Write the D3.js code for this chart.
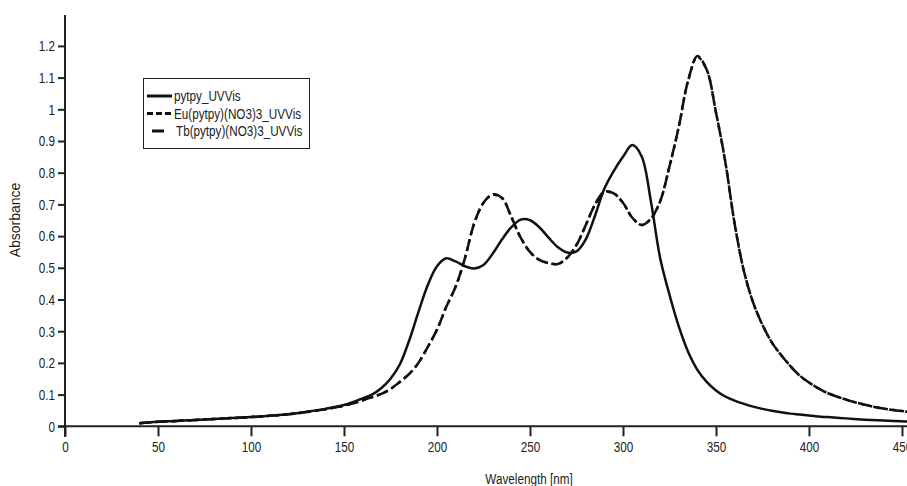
<!DOCTYPE html>
<html>
<head>
<meta charset="utf-8">
<script src="https://cdn.jsdelivr.net/npm/d3@7"></script>
<style>
  body { margin: 0; background: #fff; }
  svg { display: block; }
  .tick text, .label, .legend text { font-family: "Liberation Sans", Arial, sans-serif; font-size: 15px; fill: #222; }
  .ylabel { font-family: "Liberation Sans", Arial, sans-serif; font-size: 14px; fill: #222; }
</style>
</head>
<body>
<svg id="uvgraph"></svg>
<script>
// wavelengths the three spectra are read at (nm)
var wavelength = [40, 50, 60, 70, 80, 90, 100, 110, 120, 130, 140, 150, 160, 165, 170, 175,
                  180, 185, 190, 195, 200, 205, 210, 215, 220, 225, 230, 235, 240, 245, 250,
                  255, 260, 265, 270, 275, 280, 285, 290, 295, 300, 305, 310, 315, 320, 325,
                  330, 335, 340, 345, 350, 355, 360, 365, 370, 375, 380, 385, 390, 395, 400,
                  405, 410, 420, 430, 440, 453]

var pytpy = [0.010, 0.014, 0.017, 0.020, 0.023, 0.026, 0.029, 0.033, 0.038, 0.046, 0.055, 0.067,
             0.088, 0.100, 0.120, 0.150, 0.195, 0.270, 0.360, 0.445, 0.505, 0.530, 0.520, 0.505,
             0.498, 0.509, 0.545, 0.590, 0.628, 0.652, 0.650, 0.628, 0.595, 0.565, 0.548, 0.552,
             0.590, 0.665, 0.750, 0.805, 0.850, 0.887, 0.852, 0.710, 0.530, 0.415, 0.315, 0.235,
             0.178, 0.140, 0.113, 0.094, 0.081, 0.071, 0.062, 0.055, 0.049, 0.044, 0.040, 0.037,
             0.034, 0.031, 0.029, 0.025, 0.021, 0.018, 0.015]

var euComplex = [0.010, 0.014, 0.017, 0.020, 0.023, 0.026, 0.029, 0.033, 0.038, 0.045, 0.054, 0.065,
                 0.082, 0.092, 0.102, 0.118, 0.140, 0.165, 0.200, 0.250, 0.305, 0.377, 0.440, 0.530,
                 0.640, 0.705, 0.730, 0.720, 0.660, 0.595, 0.550, 0.525, 0.515, 0.512, 0.532, 0.572,
                 0.635, 0.700, 0.738, 0.735, 0.705, 0.658, 0.635, 0.655, 0.710, 0.820, 0.945, 1.090,
                 1.165, 1.125, 0.990, 0.835, 0.640, 0.490, 0.390, 0.320, 0.265, 0.225, 0.190, 0.160,
                 0.138, 0.120, 0.105, 0.084, 0.068, 0.056, 0.046]

var tbComplex = [0.010, 0.014, 0.017, 0.020, 0.023, 0.026, 0.029, 0.033, 0.038, 0.045, 0.054, 0.065,
                 0.082, 0.092, 0.102, 0.118, 0.140, 0.165, 0.200, 0.250, 0.305, 0.377, 0.440, 0.530,
                 0.640, 0.705, 0.732, 0.720, 0.660, 0.595, 0.550, 0.525, 0.515, 0.512, 0.532, 0.572,
                 0.635, 0.700, 0.740, 0.735, 0.705, 0.658, 0.635, 0.655, 0.710, 0.820, 0.945, 1.090,
                 1.168, 1.125, 0.990, 0.835, 0.640, 0.490, 0.390, 0.320, 0.265, 0.225, 0.190, 0.160,
                 0.138, 0.120, 0.105, 0.084, 0.068, 0.056, 0.046]

var seriesNames = ["pytpy_UVVis", "Eu(pytpy)(NO3)3_UVVis", "Tb(pytpy)(NO3)3_UVVis"]
var xTicks = [0, 50, 100, 150, 200, 250, 300, 350, 400, 450]
var yTicks = [0, 0.1, 0.2, 0.3, 0.4, 0.5, 0.6, 0.7, 0.8, 0.9, 1, 1.1, 1.2]

//narrow look for the texts: squeeze horizontally, keep x where it was
var squeeze = 0.78
var narrow = function(sel, x)
{
    sel.attr("transform", "scale("+squeeze+",1)")
       .attr("x", x/squeeze)
}

var initUVGraph = function()
{
    var screen = {width:907, height:486}
    var margins = {left:65, right:0, top:14, bottom:60}
    var graph =
        {
            width:screen.width-margins.left-margins.right,
            height:screen.height-margins.top-margins.bottom
        }

    var svg = d3.select("#uvgraph")
        .attr("width", screen.width)
        .attr("height", screen.height)

    var xScale = d3.scaleLinear()
        .domain([0, 452.7])
        .range([margins.left, screen.width])

    var yScale = d3.scaleLinear()
        .domain([0, 1.3])
        .range([426.3, 426.3-1.3*317])

    //clip so nothing runs past the right edge of the axis
    svg.append("clipPath").attr("id", "plotclip")
       .append("rect")
       .attr("x", margins.left).attr("y", 0)
       .attr("width", graph.width).attr("height", 430)

    var series = [
        {name:seriesNames[0], values:pytpy, dash:null},
        {name:seriesNames[1], values:euComplex, dash:"4,4"},
        {name:seriesNames[2], values:tbComplex, dash:"12,4"}
    ]

    var line = d3.line()
        .x(function(d){return xScale(d.x)})
        .y(function(d){return yScale(d.y)})
        .curve(d3.curveCatmullRom.alpha(0.5))

    svg.append("g")
       .attr("clip-path", "url(#plotclip)")
       .selectAll("path")
       .data(series)
       .enter()
       .append("path")
       .attr("d", function(s)
        {
            return line(wavelength.map(function(w,i){return {x:w, y:s.values[i]}}))
        })
       .attr("fill", "none")
       .attr("stroke", "#111")
       .attr("stroke-width", 2.5)
       .attr("stroke-dasharray", function(s){return s.dash})

    //axes
    var xAxis = d3.axisBottom(xScale)
        .tickValues(xTicks)
        .tickSize(10)
        .tickSizeOuter(0)
        .tickPadding(5)
    var gx = svg.append("g")
       .attr("transform", "translate(0,"+yScale(0)+")")
       .call(xAxis)
    gx.select(".domain").attr("d", "M58,0H907")
    gx.selectAll(".tick text").call(narrow, 0)

    var yAxis = d3.axisLeft(yScale)
        .tickValues(yTicks)
        .tickSize(7)
        .tickSizeOuter(0)
        .tickFormat(function(d){return +d.toFixed(1)})
    var gy = svg.append("g")
       .attr("transform", "translate("+margins.left+",0)")
       .call(yAxis)
    gy.select(".domain").attr("d", "M0,15V437")
    gy.selectAll(".tick text").call(narrow, -10)

    svg.selectAll(".domain").attr("stroke", "#222").attr("stroke-width", 2)
    svg.selectAll(".tick line").attr("stroke", "#222").attr("stroke-width", 2)

    //labels
    svg.append("text")
       .text("Wavelength [nm]")
       .classed("label", true)
       .attr("text-anchor", "middle")
       .attr("y", 484)
       .call(narrow, 529)

    svg.append("g")
       .attr("transform", "translate(20,220)")
       .append("text")
       .text("Absorbance")
       .classed("ylabel", true)
       .attr("text-anchor", "middle")
       .attr("transform", "rotate(-90)")

    //legend
    var legend = svg.append("g").classed("legend", true)
    legend.append("rect")
          .attr("x", 143.5).attr("y", 78.5)
          .attr("width", 166).attr("height", 70)
          .attr("fill", "#fff")
          .attr("stroke", "#222")
          .attr("stroke-width", 1)

    var samples = [
        {x1:147, x2:172, dash:null, tx:174},
        {x1:147, x2:172, dash:"6,3", tx:174},
        {x1:152, x2:164, dash:null, tx:176}
    ]
    var entries = legend.selectAll("g.entry")
        .data(series)
        .enter()
        .append("g")
        .classed("entry", true)
        .attr("transform", function(s,i){return "translate(0,"+(96+i*17.5)+")"})

    entries.append("line")
        .attr("x1", function(s,i){return samples[i].x1})
        .attr("x2", function(s,i){return samples[i].x2})
        .attr("y1", 0).attr("y2", 0)
        .attr("stroke", "#111")
        .attr("stroke-width", 3)
        .attr("stroke-dasharray", function(s,i){return samples[i].dash})

    entries.append("text")
        .text(function(s){return s.name})
        .attr("y", 5)
        .each(function(s,i){d3.select(this).call(narrow, samples[i].tx)})
}

initUVGraph()
</script>
</body>
</html>
